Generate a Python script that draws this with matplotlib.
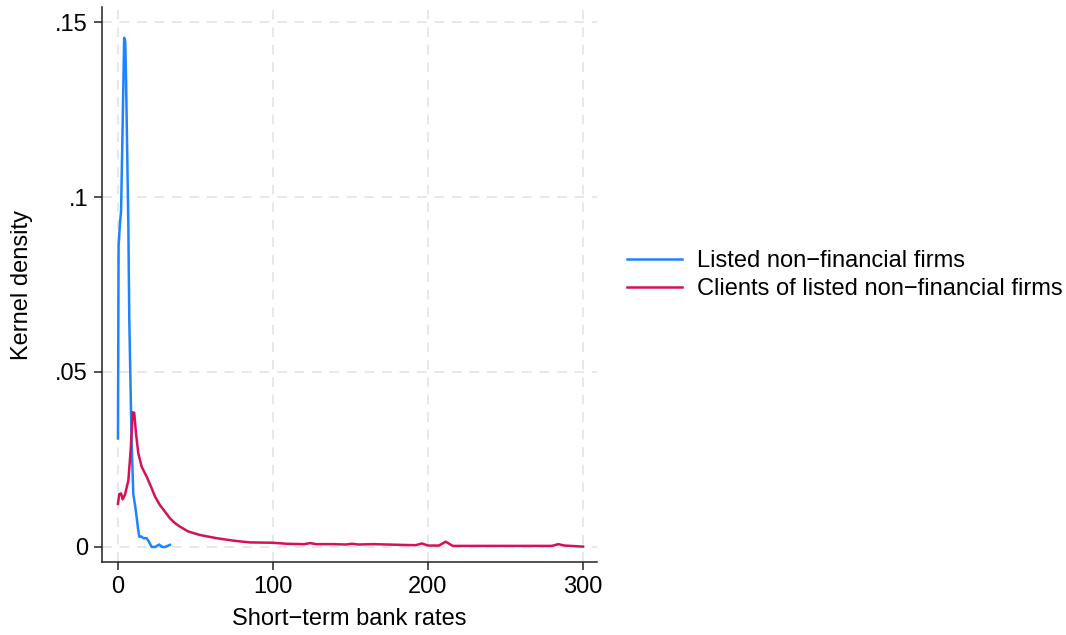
import numpy as np
import matplotlib
matplotlib.use('Agg')
import matplotlib.pyplot as plt

plt.rcParams['font.family'] = ['Liberation Sans', 'DejaVu Sans']

# kernel density of listed firms
listed_x = [0, 0.4, 1.3, 2.0, 3.0, 4.0, 4.7, 5.2, 6.7, 7.3, 8.2, 8.8, 9.9,
            11.0, 12.0, 13.0, 13.8, 15.0, 16.5, 18.5, 20.0, 21.7, 24.0,
            26.5, 28.5, 30.5, 33.5]
listed_y = [0.031, 0.086, 0.0925, 0.096, 0.12, 0.1455, 0.1445, 0.134,
            0.0917, 0.065, 0.044, 0.030, 0.0150, 0.0120, 0.0087, 0.005,
            0.0029, 0.003, 0.0025, 0.0025, 0.0015, 0.0, 0.0, 0.0007, 0.0,
            0.0, 0.0006]

# kernel density of clients
clients_x = [0, 0.8, 2.0, 3.0, 4.5, 6.7, 8.2, 9.5, 10.5, 11.6, 13.1, 15.3,
             18.5, 21.7, 23.9, 27.0, 30.3, 33.5, 36.8, 40.0, 45.4, 53.0,
             63.7, 74.4, 85.0, 100, 109, 120, 124, 128, 139, 147, 151, 155,
             165, 182, 192, 196, 200, 207, 211.4, 216, 230, 250, 270, 280,
             284, 288, 300]
clients_y = [0.0123, 0.0151, 0.0153, 0.0136, 0.0149, 0.019, 0.0277, 0.0385,
             0.0383, 0.0326, 0.0268, 0.0229, 0.0201, 0.0168, 0.0144, 0.012,
             0.0101, 0.0082, 0.0068, 0.0058, 0.0044, 0.0034, 0.0025, 0.0018,
             0.0013, 0.0012, 0.0009, 0.0008, 0.0011, 0.0008, 0.0008, 0.0007,
             0.0009, 0.0007, 0.0008, 0.0006, 0.0005, 0.001, 0.0004, 0.0004,
             0.0015, 0.0003, 0.0003, 0.0003, 0.0003, 0.0003, 0.0008, 0.0004,
             0.0001]

x_ticks = [0, 100, 200, 300]
y_ticks = [0, 0.05, 0.1, 0.15]
y_tick_labels = ['0', '.05', '.1', '.15']

fig = plt.figure(figsize=(10.66, 6.35), dpi=100)
ax = fig.add_axes([102 / 1066, 1 - 562 / 635, 495 / 1066, 555 / 635])

ax.plot(listed_x, listed_y, color='#1a85ff', lw=1.8,
        label='Listed non\u2212financial firms')
ax.plot(clients_x, clients_y, color='#d41159', lw=1.8,
        label='Clients of listed non\u2212financial firms')

ax.set_xlim(-10.3, 309)
ax.set_ylim(-0.0043, 0.1543)
ax.set_xticks(x_ticks)
ax.set_yticks(y_ticks)
ax.set_yticklabels(y_tick_labels)
ax.grid(True, color='#e8e8e8', ls=(0, (5, 4)), lw=1.4)
ax.set_axisbelow(True)

for s in ['top', 'right']:
    ax.spines[s].set_visible(False)
for s in ['left', 'bottom']:
    ax.spines[s].set_color('#222222')
    ax.spines[s].set_linewidth(1.1)
ax.tick_params(direction='out', length=6, width=1.1, color='#222222',
               labelsize=17, pad=4)

ax.set_xlabel('Short\u2212term bank rates', fontsize=17, labelpad=7)
ax.set_ylabel('Kernel density', fontsize=17, labelpad=16)

ax.legend(loc='center left', bbox_to_anchor=((627 - 102) / 495, (562 - 275) / 555),
          frameon=False, fontsize=17, handlelength=2.33, handletextpad=0.64,
          labelspacing=0.27, borderaxespad=0, borderpad=0)

fig.savefig('out.png', dpi=100)
